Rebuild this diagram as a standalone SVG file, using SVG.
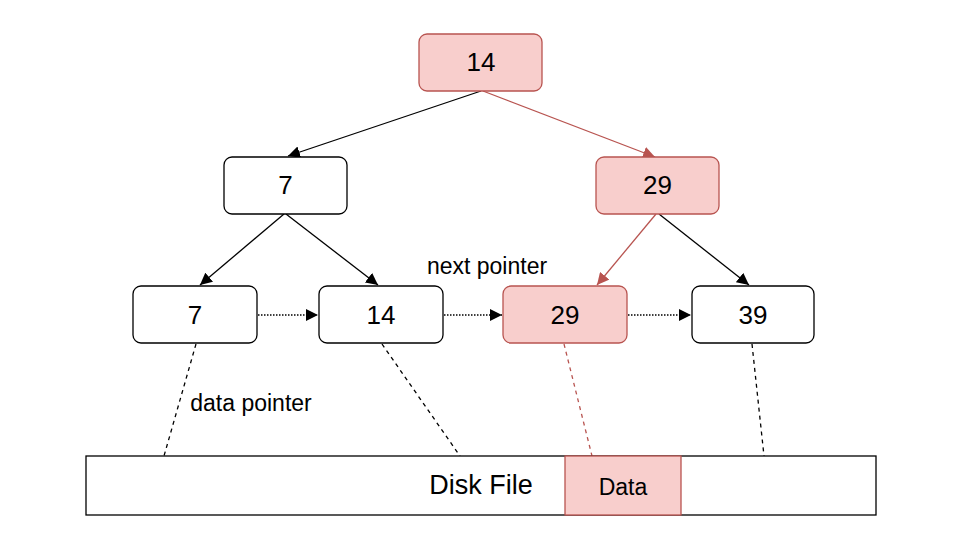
<svg xmlns="http://www.w3.org/2000/svg" width="968" height="551" viewBox="0 0 968 551">
<defs>
<style>
.n rect{fill:#ffffff;stroke:#000000;stroke-width:1.3}
.n.hl rect{fill:#f8cecc;stroke:#b85450}
.n text,.lbl{font-family:"Liberation Sans",Arial,sans-serif;fill:#000;text-anchor:middle}
.n text{font-size:26px}
.e{fill:none;stroke:#000;stroke-width:1.3}
.e.red{stroke:#b85450}
.e.dot{stroke-dasharray:1.5 1.5}
.e.dash{stroke-dasharray:4 4}
</style>
<marker id="ab" viewBox="0 0 10 10" refX="10" refY="5" markerWidth="12" markerHeight="12" markerUnits="userSpaceOnUse" orient="auto"><path d="M0,0 L10,5 L0,10 z" fill="#000"/></marker>
<marker id="ar" viewBox="0 0 10 10" refX="10" refY="5" markerWidth="12" markerHeight="12" markerUnits="userSpaceOnUse" orient="auto"><path d="M0,0 L10,5 L0,10 z" fill="#b85450"/></marker>
</defs>
<rect width="968" height="551" fill="#ffffff"/>
<g id="connectors">
<line class="e" x1="481" y1="91" x2="288" y2="156" marker-end="url(#ab)"/>
<line class="e red" x1="483" y1="91" x2="655" y2="157" marker-end="url(#ar)"/>
<line class="e" x1="284" y1="214" x2="200" y2="285" marker-end="url(#ab)"/>
<line class="e" x1="286" y1="214" x2="378" y2="285" marker-end="url(#ab)"/>
<line class="e red" x1="656" y1="214" x2="597" y2="285" marker-end="url(#ar)"/>
<line class="e" x1="659" y1="214" x2="749" y2="285" marker-end="url(#ab)"/>
<line class="e dot" x1="258" y1="315" x2="318" y2="315" marker-end="url(#ab)"/>
<line class="e dot" x1="444" y1="315" x2="502" y2="315" marker-end="url(#ab)"/>
<line class="e dot" x1="628" y1="315" x2="691" y2="315" marker-end="url(#ab)"/>
<line class="e dash" x1="196" y1="344" x2="164" y2="456"/>
<line class="e dash" x1="382" y1="344" x2="460" y2="456"/>
<line class="e dash red" x1="564" y1="344" x2="592" y2="456"/>
<line class="e dash" x1="752" y1="344" x2="764" y2="456"/>
</g>
<g id="root14" class="n hl"><rect x="419" y="34" width="123" height="57" rx="8"/><text x="481" y="71">14</text></g>
<g id="n7" class="n"><rect x="224" y="157" width="123" height="57" rx="8"/><text x="285.5" y="194">7</text></g>
<g id="n29" class="n hl"><rect x="596" y="157" width="123" height="57" rx="8"/><text x="657.5" y="194">29</text></g>
<g id="leaf7" class="n"><rect x="133" y="286" width="124" height="57" rx="8"/><text x="195" y="324">7</text></g>
<g id="leaf14" class="n"><rect x="319" y="286" width="124" height="57" rx="8"/><text x="381" y="324">14</text></g>
<g id="leaf29" class="n hl"><rect x="503" y="286" width="124" height="57" rx="8"/><text x="565" y="324">29</text></g>
<g id="leaf39" class="n"><rect x="692" y="286" width="122" height="57" rx="8"/><text x="753" y="324">39</text></g>
<g id="disk">
<rect x="86" y="456" width="790" height="59" fill="#ffffff" stroke="#000" stroke-width="1.3"/>
<rect x="565" y="456" width="116" height="59" fill="#f8cecc" stroke="#b85450" stroke-width="1.3"/>
<text class="lbl" x="481" y="494" font-size="27">Disk File</text>
<text class="lbl" x="623" y="495" font-size="23">Data</text>
</g>
<text class="lbl" x="487" y="274" font-size="23">next pointer</text>
<text class="lbl" x="251" y="411" font-size="23">data pointer</text>
</svg>
